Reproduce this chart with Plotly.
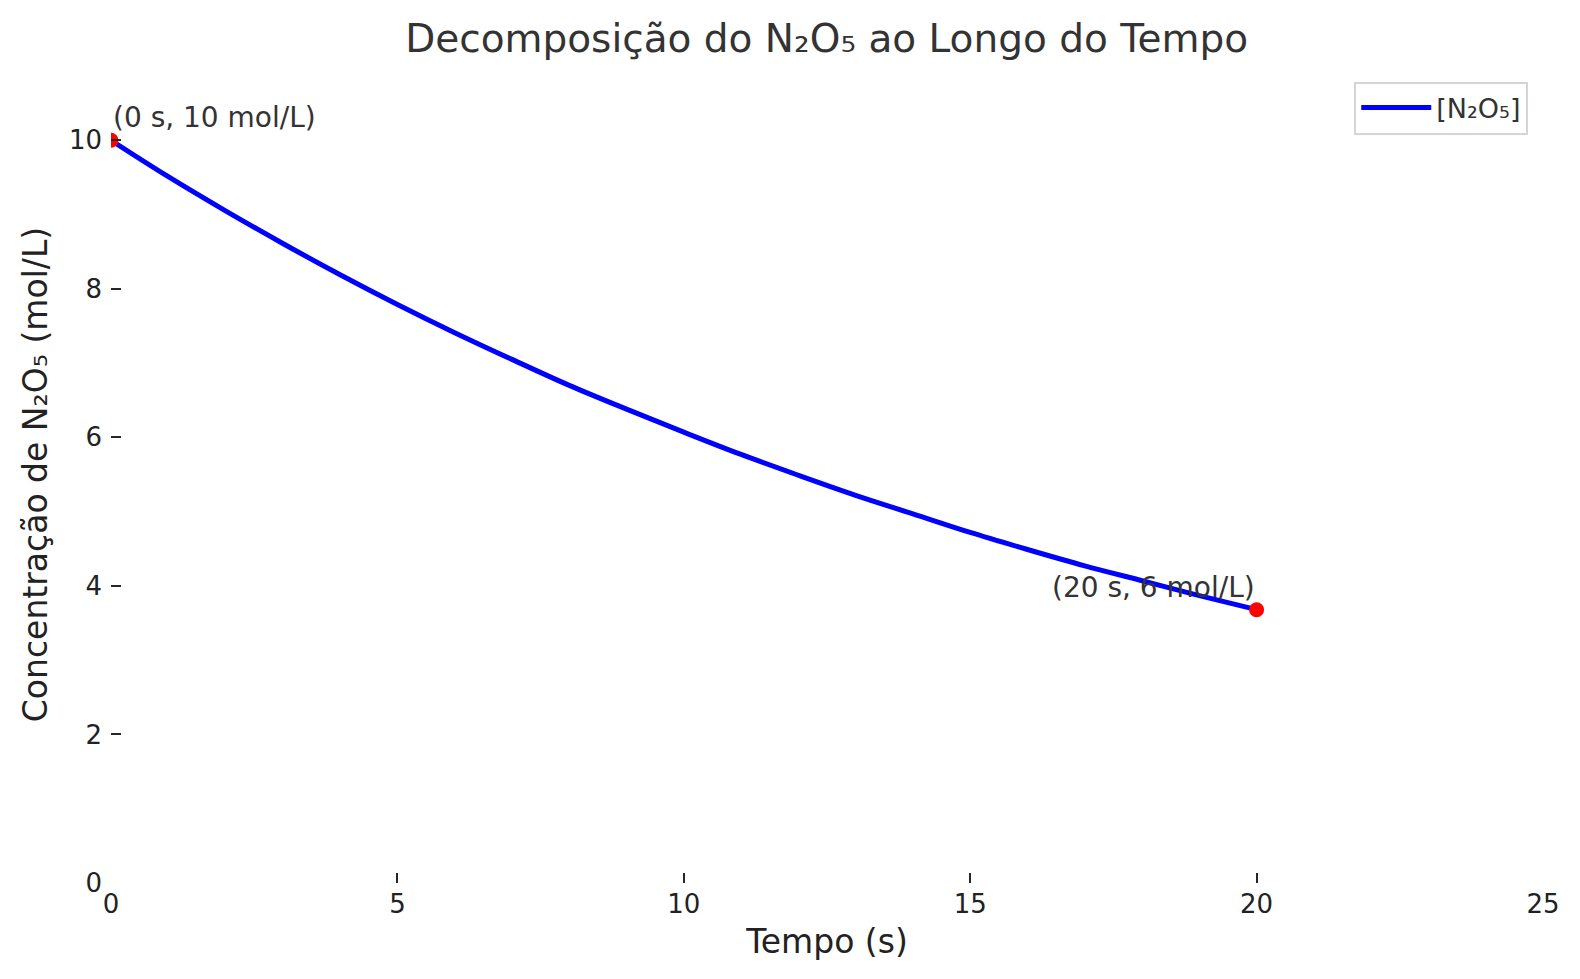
import plotly.graph_objects as go

# concentração (mol/L) a cada segundo
tempo = [0, 1, 2, 3, 4, 5, 6, 7, 8, 9, 10, 11, 12, 13, 14, 15, 16, 17, 18, 19, 20]
concentracao = [10.0, 9.51, 9.05, 8.61, 8.19, 7.79, 7.41, 7.05, 6.70, 6.38, 6.07,
                5.77, 5.49, 5.22, 4.97, 4.72, 4.49, 4.27, 4.07, 3.87, 3.68]

pontos_t = [0, 20]
pontos_c = [10.0, 3.68]
rotulos = ["(0 s, 10 mol/L)", "(20 s, 6 mol/L)"]

x_ticks = [0, 5, 10, 15, 20, 25]
y_ticks = [0, 2, 4, 6, 8, 10]

FONT = "DejaVu Sans"

fig = go.Figure()
fig.add_trace(
    go.Scatter(
        x=tempo,
        y=concentracao,
        mode="lines",
        line=dict(color="#0000FF", width=5, shape="spline"),
        name="[N₂O₅]",
    )
)
fig.add_trace(
    go.Scatter(
        x=pontos_t,
        y=pontos_c,
        mode="markers",
        marker=dict(color="#FF0000", size=15),
        showlegend=False,
    )
)

for t, c, txt, anchor in zip(pontos_t, pontos_c, rotulos, ["left", "right"]):
    fig.add_annotation(
        x=t,
        y=c,
        text=txt,
        showarrow=False,
        xanchor=anchor,
        yanchor="bottom",
        yshift=4,
        font=dict(family=FONT, size=28, color="#333333"),
    )

axis_common = dict(
    showgrid=False,
    zeroline=False,
    showline=False,
    ticks="inside",
    ticklen=10,
    tickwidth=2,
    tickcolor="#262626",
    tickfont=dict(family=FONT, size=26, color="#222222"),
)

# the page body adds an 8 px margin, so the figure is 16 px smaller
fig.update_layout(
    width=1564,
    height=963,
    margin=dict(l=103, r=29, t=58, b=88),
    paper_bgcolor="white",
    plot_bgcolor="white",
    title=dict(
        text="Decomposição do N₂O₅ ao Longo do Tempo",
        x=0.5234,
        xanchor="center",
        y=1 - 30 / 963,
        yanchor="middle",
        font=dict(family=FONT, size=39, color="#333333"),
    ),
    xaxis=dict(
        range=[0, 25],
        tickvals=x_ticks,
        title=dict(text="Tempo (s)", standoff=11,
                   font=dict(family=FONT, size=33, color="#222222")),
        ticklabelstandoff=3,
        **axis_common,
    ),
    yaxis=dict(
        range=[0, 11],
        tickvals=y_ticks,
        title=dict(text="Concentração de N₂O₅ (mol/L)", standoff=11,
                   font=dict(family=FONT, size=33, color="#222222")),
        ticklabelstandoff=8,
        **axis_common,
    ),
    legend=dict(
        x=0.9897,
        y=0.981,
        xanchor="right",
        yanchor="top",
        itemwidth=70,
        bordercolor="#D5D5D5",
        borderwidth=2,
        bgcolor="white",
        font=dict(family=FONT, size=27, color="#333333"),
    ),
)

fig.write_html("out.html")
